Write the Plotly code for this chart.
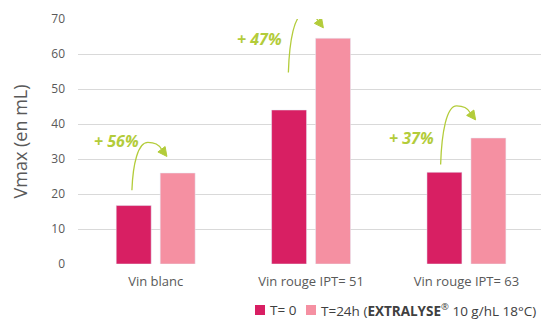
import plotly.graph_objects as go

# Wine samples and Vmax values (mL)
categories = ["Vin blanc", "Vin rouge IPT= 51", "Vin rouge IPT= 63"]
vmax_t0 = [16.7, 44.0, 26.2]
vmax_t24 = [26.0, 64.5, 36.0]
series_names = ["T= 0", "T=24h (<b>EXTRALYSE</b><sup>®</sup> 10 g/hL 18°C)"]
y_ticks = [0, 10, 20, 30, 40, 50, 60, 70]

DARK = "#d81f63"
LIGHT = "#f590a2"
GREEN = "#b3cc3a"
GREY_TXT = "#595959"
FONT = "Open Sans"

BAR_W = 0.225
HALF_SEP = 0.1415

W, H = 541, 320
M_L, M_R, M_T, M_B = 78, 0, 19, 56

x_idx = list(range(len(categories)))
colors = [DARK, LIGHT]

fig = go.Figure()
fig.add_bar(x=x_idx, y=vmax_t0, name=series_names[0], marker_color=DARK,
            width=BAR_W, offset=-HALF_SEP - BAR_W / 2, showlegend=False)
fig.add_bar(x=x_idx, y=vmax_t24, name=series_names[1], marker_color=LIGHT,
            width=BAR_W, offset=HALF_SEP - BAR_W / 2, showlegend=False)

# Increase labels computed from the two series
gains = [round((b / a - 1) * 100) for a, b in zip(vmax_t0, vmax_t24)]
label_pos = [(-0.255, 35.2), (0.666, 64.2), (1.649, 36.1)]
for (lx, ly), g in zip(label_pos, gains):
    fig.add_annotation(x=lx, y=ly, text=f"<b><i>+ {g}%</i></b>", showarrow=False,
                       font=dict(family=FONT, size=16, color=GREEN))

# Curved arrows from the T=0 bar towards the T=24h bar (pixel geometry)
arrow_start = [(-0.153, 21.1, 47.7), (0.854, 54.7, 58.7), (1.834, 28.4, 58.7)]
for ax, ay, h in arrow_start:
    curve = (f"M 0,0 C 1,{h*0.55:.1f} 6,{h:.1f} 16,{h:.1f} "
             f"C 23,{h:.1f} 27.5,{h-3:.1f} 29.6,{h-6.8:.1f}")
    fig.add_shape(type="path", path=curve, xref="x", yref="y",
                  xsizemode="pixel", ysizemode="pixel", xanchor=ax, yanchor=ay,
                  line=dict(color=GREEN, width=1.3))
    head = (f"M 35,{h-14:.1f} L 33.2,{h-4.1:.1f} L 26,{h-9.5:.1f} Z")
    fig.add_shape(type="path", path=head, xref="x", yref="y",
                  xsizemode="pixel", ysizemode="pixel", xanchor=ax, yanchor=ay,
                  line=dict(color=GREEN, width=1), fillcolor=GREEN)


# Compact legend below the plot: swatch + label per series
def px_to_paper(px, py):
    pw, ph = W - M_L - M_R, H - M_T - M_B
    return (px - M_L) / pw, (H - M_B - py) / ph


legend_items = [(255, 268), (306, 319)]
for (sx, tx), name, col in zip(legend_items, series_names, colors):
    x0, y0 = px_to_paper(sx, 315)
    x1, y1 = px_to_paper(sx + 10, 305)
    fig.add_shape(type="rect", xref="paper", yref="paper", x0=x0, x1=x1,
                  y0=y0, y1=y1, line=dict(width=0), fillcolor=col)
    tx_p, ty_p = px_to_paper(tx, 310)
    fig.add_annotation(xref="paper", yref="paper", x=tx_p, y=ty_p, text=name,
                       showarrow=False, xanchor="left", yanchor="middle",
                       font=dict(family=FONT, size=13.5, color="#404040"))

fig.update_layout(
    width=W, height=H,
    margin=dict(l=M_L, r=M_R, t=M_T, b=M_B),
    plot_bgcolor="white", paper_bgcolor="white",
    font=dict(family=FONT, size=13, color=GREY_TXT),
    barmode="overlay",
    showlegend=False,
)
fig.update_xaxes(
    range=[-0.5, 2.48], tickvals=x_idx, ticktext=categories,
    showgrid=False, zeroline=False, showline=False,
    ticks="", ticklabelstandoff=8,
    tickfont=dict(size=13, color=GREY_TXT),
)
fig.update_yaxes(
    range=[0, 70], tickvals=y_ticks,
    showgrid=True, gridcolor="#d9d9d9", gridwidth=1,
    zeroline=False, showline=False, ticks="", ticklabelstandoff=12,
    tickfont=dict(size=12, color=GREY_TXT),
    title=dict(text="Vmax (en mL)", font=dict(size=18, color=GREY_TXT), standoff=18),
)

fig.write_html("out.html")
